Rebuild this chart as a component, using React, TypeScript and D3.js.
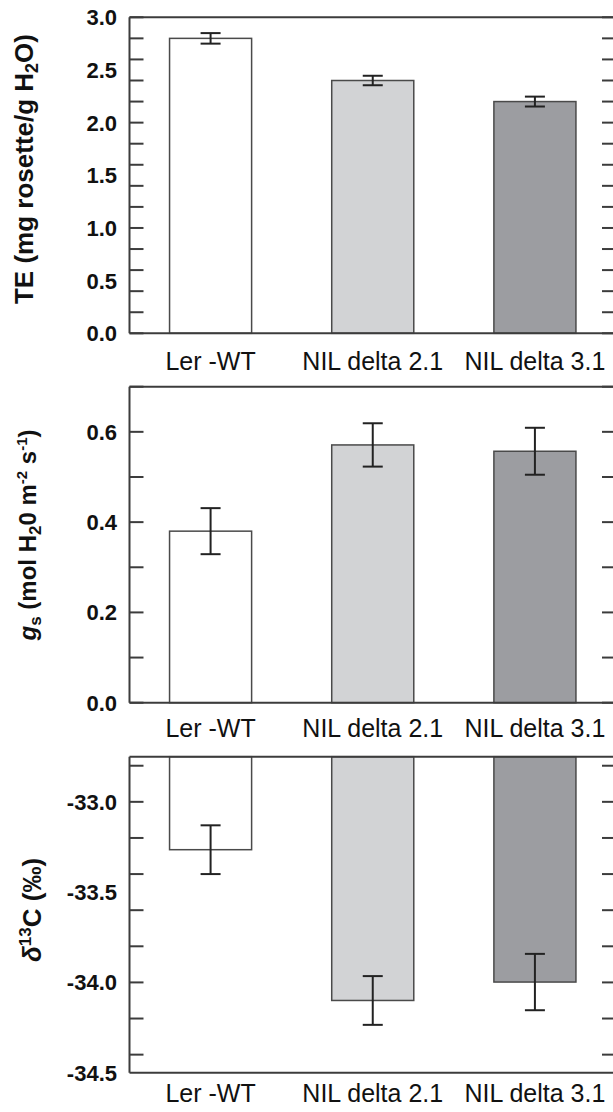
import React from "react";
import * as d3 from "d3";

// data
const categories = ["Ler -WT", "NIL delta 2.1", "NIL delta 3.1"];
const barFills = ["#ffffff", "#d2d3d5", "#9c9da1"];

const teValues = [2.8, 2.4, 2.2];
const teErrors = [0.05, 0.045, 0.047];

const gsValues = [0.38, 0.571, 0.557];
const gsErrors = [0.051, 0.048, 0.052];

const d13cValues = [-33.265, -34.1, -33.998];
const d13cErrors = [0.135, 0.135, 0.156];

const W = 613;
const H = 1112;
const FONT = "'Liberation Sans', Arial, Helvetica, sans-serif";
const plotLeft = 129.5;
const plotRight = 616;
const panelH = 316;
const tickLen = 14;

const x = d3
  .scaleBand<string>()
  .domain(categories)
  .range([plotLeft, plotRight])
  .paddingInner(0.494)
  .paddingOuter(0.247);

// plain hyphen for negatives, like the original
const fmt = (v: number) => d3.format(".1f")(v).replace("\u2212", "-");

const Panel = ({ top, domain, minorCount, labelCount, values, errors, hanging, title, titleX, titleY, titleSize, labelGap }) => {
  const y = d3.scaleLinear().domain(domain).range([top + panelH, top]);
  const minor = d3.ticks(domain[0], domain[1], minorCount);
  const major = d3.ticks(domain[0], domain[1], labelCount);
  const base = hanging ? domain[1] : domain[0];
  const bottom = top + panelH;

  return (
    <g>
      {/* bars */}
      {values.map((v, i) => {
        const y0 = y(base);
        const y1 = y(v);
        return (
          <rect
            key={`bar-${i}`}
            x={x(categories[i])}
            y={Math.min(y0, y1)}
            width={x.bandwidth()}
            height={Math.abs(y1 - y0)}
            fill={barFills[i]}
            stroke="#4a4a4a"
            strokeWidth={1.5}
          />
        );
      })}
      {/* error bars */}
      {values.map((v, i) => {
        const cx = x(categories[i]) + x.bandwidth() / 2;
        const hi = y(v + errors[i]);
        const lo = y(v - errors[i]);
        return (
          <g key={`err-${i}`} stroke="#222" strokeWidth={2}>
            <line x1={cx} x2={cx} y1={hi} y2={lo} />
            <line x1={cx - 10} x2={cx + 10} y1={hi} y2={hi} />
            <line x1={cx - 10} x2={cx + 10} y1={lo} y2={lo} />
          </g>
        );
      })}
      {/* frame */}
      <g stroke="#3c3c3c" strokeWidth={2} fill="none">
        <line x1={plotLeft} x2={plotRight} y1={top} y2={top} />
        <line x1={plotLeft} x2={plotRight} y1={bottom} y2={bottom} />
        <line x1={plotLeft} x2={plotLeft} y1={top} y2={bottom} />
        <line x1={plotRight} x2={plotRight} y1={top} y2={bottom} />
      </g>
      {/* ticks both sides */}
      <g stroke="#3c3c3c" strokeWidth={2}>
        {minor.map((t, i) => (
          <g key={`tk-${i}`}>
            <line x1={plotLeft} x2={plotLeft + tickLen} y1={y(t)} y2={y(t)} />
            <line x1={plotRight - tickLen} x2={plotRight} y1={y(t)} y2={y(t)} />
          </g>
        ))}
      </g>
      {major.map((t, i) => (
        <text
          key={`lab-${i}`}
          x={117}
          y={y(t)}
          dy="0.36em"
          textAnchor="end"
          fontFamily={FONT}
          fontWeight="bold"
          fontSize={22}
          fill="#111"
        >
          {fmt(t)}
        </text>
      ))}
      {categories.map((c, i) => (
        <text
          key={`cat-${i}`}
          x={x(c) + x.bandwidth() / 2}
          y={bottom + labelGap}
          textAnchor="middle"
          fontFamily={FONT}
          fontSize={25}
          fill="#111"
        >
          {c}
        </text>
      ))}
      <text
        transform={`translate(${titleX},${titleY}) rotate(-90)`}
        textAnchor="middle"
        fontFamily={FONT}
        fontWeight="bold"
        fontSize={titleSize}
        fill="#111"
      >
        {title}
      </text>
    </g>
  );
};

const App = () => {
  return (
    <svg width={W} height={H} style={{ position: "absolute", left: 0, top: 0, background: "#fff" }}>
      <rect x={0} y={0} width={W} height={H} fill="#fff" />
      <Panel
        top={17.3}
        domain={[0, 3]}
        minorCount={12}
        labelCount={6}
        values={teValues}
        errors={teErrors}
        hanging={false}
        titleX={33}
        titleY={169}
        titleSize={26}
        labelGap={37}
        title={
          <>
            TE (mg rosette/g H<tspan dy="5" fontSize={18}>2</tspan>
            <tspan dy="-5">O)</tspan>
          </>
        }
      />
      <Panel
        top={386.7}
        domain={[0, 0.7]}
        minorCount={7}
        labelCount={3}
        values={gsValues}
        errors={gsErrors}
        hanging={false}
        titleX={36}
        titleY={535}
        titleSize={24}
        labelGap={34}
        title={
          <>
            <tspan fontStyle="italic">g</tspan>
            <tspan dy="5" fontSize={17}>s</tspan>
            <tspan dy="-5"> (mol H</tspan>
            <tspan dy="5" fontSize={17}>2</tspan>
            <tspan dy="-5">0 m</tspan>
            <tspan dy="-9" fontSize={15}>-2</tspan>
            <tspan dy="9"> s</tspan>
            <tspan dy="-9" fontSize={15}>-1</tspan>
            <tspan dy="9">)</tspan>
          </>
        }
      />
      <Panel
        top={756.7}
        domain={[-34.5, -32.75]}
        minorCount={7}
        labelCount={3}
        values={d13cValues}
        errors={d13cErrors}
        hanging={true}
        titleX={41}
        titleY={910}
        titleSize={26}
        labelGap={29}
        title={
          <>
            <tspan fontStyle="italic">δ</tspan>
            <tspan dy="-10" fontSize={17}>13</tspan>
            <tspan dy="10">C (‰)</tspan>
          </>
        }
      />
    </svg>
  );
};

export default App;
